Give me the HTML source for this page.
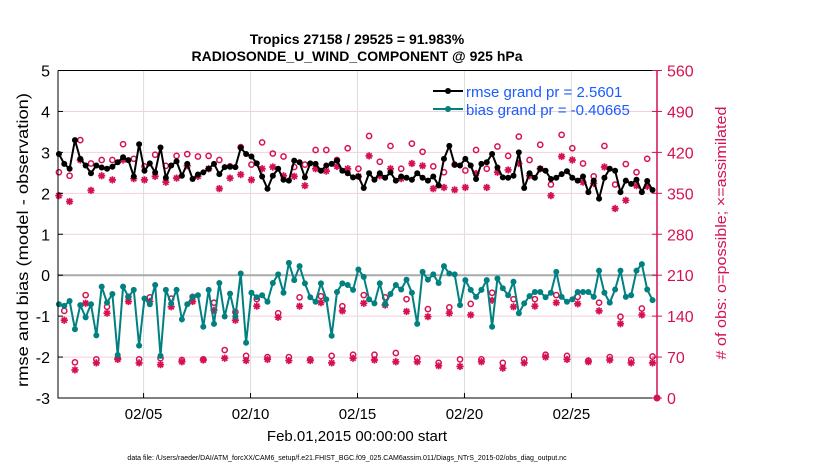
<!DOCTYPE html>
<html><head><meta charset="utf-8"><style>
body{margin:0;background:#fff;}
svg text{font-family:"Liberation Sans",sans-serif;}
</style></head><body>
<svg id="chart" width="830" height="470" viewBox="0 0 830 470" xmlns="http://www.w3.org/2000/svg">
<rect width="830" height="470" fill="#fff"/>
<text x="357" y="44" text-anchor="middle" font-size="14" font-weight="bold">Tropics 27158 / 29525 = 91.983%</text>
<text x="357" y="61" text-anchor="middle" font-size="14" font-weight="bold">RADIOSONDE_U_WIND_COMPONENT @ 925 hPa</text>
<g id="grid"></g>
<g id="marks"></g>
<g id="axes"></g>
<g>
<line x1="433" y1="91" x2="463" y2="91" stroke="#000" stroke-width="2"/><circle cx="448" cy="91" r="3" fill="#000"/>
<text x="466" y="97" font-size="15" fill="#1a5cff">rmse grand pr = 2.5601</text>
<line x1="433" y1="109" x2="463" y2="109" stroke="#008080" stroke-width="2"/><circle cx="448" cy="109" r="3" fill="#008080"/>
<text x="466" y="115" font-size="15" fill="#1a5cff">bias grand pr = -0.40665</text>
</g>
<text transform="translate(28,240) rotate(-90)" text-anchor="middle" font-size="16" textLength="294" lengthAdjust="spacingAndGlyphs">rmse and bias (model - observation)</text>
<text transform="translate(726,233) rotate(-90)" text-anchor="middle" font-size="15" fill="#d6114f" textLength="253" lengthAdjust="spacingAndGlyphs"># of obs: o=possible; ×=assimilated</text>
<text x="357" y="441" text-anchor="middle" font-size="15">Feb.01,2015 00:00:00 start</text>
<text x="347" y="460" text-anchor="middle" font-size="7">data file: /Users/raeder/DAI/ATM_forcXX/CAM6_setup/f.e21.FHIST_BGC.f09_025.CAM6assim.011/Diags_NTrS_2015-02/obs_diag_output.nc</text>
</svg>
<script>
const rmse=[2.96,2.72,2.60,3.30,2.84,2.68,2.49,2.68,2.63,2.60,2.65,2.76,2.88,2.81,2.41,3.20,2.55,2.73,2.51,3.12,2.38,2.68,2.78,2.43,2.72,2.35,2.46,2.51,
2.60,2.72,2.47,2.64,2.65,2.64,3.11,2.96,2.90,2.73,2.41,2.11,2.43,2.60,2.33,2.31,2.80,2.76,2.39,2.73,2.72,2.55,2.68,2.72,2.80,2.55,2.49,2.39,
2.41,2.13,2.49,2.33,2.49,2.38,2.51,2.31,2.41,2.38,2.33,2.49,2.38,2.31,2.41,2.19,2.84,3.16,2.70,2.68,2.84,2.68,2.35,2.72,2.76,2.96,2.63,2.39,
2.38,2.43,3.00,2.13,2.49,2.38,2.60,2.55,2.35,2.38,2.47,2.54,2.38,2.31,2.41,2.03,2.31,1.87,2.38,2.60,2.55,2.03,2.31,2.23,2.33,2.03,2.30,2.08];
const bias=[-0.71,-0.75,-0.63,-1.32,-0.73,-1.03,-0.71,-1.47,-0.28,-0.67,-0.46,-1.95,-0.28,-0.53,-0.36,-1.72,-0.57,-0.71,-0.24,-1.97,-0.36,-0.69,-0.36,-1.08,-0.71,-0.53,-0.49,-1.26,
-0.36,-1.19,-0.19,-1.01,-0.45,-1.01,0.04,-1.65,-0.43,-0.54,-0.49,-0.65,-0.19,0.02,-0.43,0.30,-0.12,0.22,-0.20,-0.54,-0.65,-0.20,-0.59,-1.48,-0.41,-0.20,-0.24,-0.36,
0.14,-0.04,-0.59,-0.69,-0.20,-0.71,-0.46,-0.24,-0.35,-0.11,-0.43,-1.19,0.08,-0.11,0.02,-0.19,0.22,0.04,0.02,-0.73,-0.12,-0.36,-0.53,-0.36,-0.12,-1.26,-0.08,-0.32,
-0.49,-0.16,-0.93,-0.69,-0.51,-0.41,-0.41,-0.54,-0.43,0.08,-0.53,-0.65,-0.59,-0.41,-0.41,-0.41,-0.53,0.11,-0.43,-0.67,-0.35,0.11,-0.53,-0.49,0.11,0.27,-0.35,-0.61];
const nPossible=[386,149,380,61,441,176,401,66,407,156,407,68,434,173,409,66,396,172,416,68,397,170,414,65,417,173,413,66,
414,163,407,82,396,147,429,72,399,169,437,70,418,145,413,70,395,172,399,66,424,174,424,72,407,157,427,74,
392,176,448,74,404,172,431,77,392,169,435,68,421,152,396,60,386,155,399,66,389,161,424,66,392,180,430,60,
414,169,447,66,407,169,433,74,365,176,450,72,427,173,401,64,379,163,431,70,365,139,400,65,386,153,409,71];
const nAssim=[346,133,336,48,407,162,355,60,380,145,373,66,407,165,375,60,373,165,379,57,369,156,376,62,397,165,379,65,
392,150,358,68,376,133,382,64,373,157,392,66,395,138,380,64,379,157,363,64,392,163,388,60,396,149,392,68,
379,162,414,65,380,159,392,62,375,148,401,62,397,139,358,55,360,145,356,54,360,142,384,62,360,167,386,51,
390,156,401,60,380,157,392,70,346,163,413,66,407,161,369,62,367,149,395,65,324,127,338,60,363,142,362,60];
const leftTicks=[-3,-2,-1,0,1,2,3,4,5];
const rightTicks=[0,70,140,210,280,350,420,490,560];
const xTickDays=[4,9,14,19,24];
const xTickLabels=["02/05","02/10","02/15","02/20","02/25"];
const firstTime=0.042, stepDays=0.25;

const L=58,R=657,T=70.5,B=398;
const X=d=>L+(d/28)*(R-L);
const Y=v=>B-(v+3)/8*(B-T);
const Yc=c=>B-c/560*(B-T);
const NS='http://www.w3.org/2000/svg';
function mk(tag,attrs,parent){const e=document.createElementNS(NS,tag);for(const k in attrs)e.setAttribute(k,attrs[k]);parent.appendChild(e);return e;}
const grid=document.getElementById('grid'),marks=document.getElementById('marks'),axes=document.getElementById('axes');
rightTicks.forEach(c=>{const l=mk('line',{x1:L,x2:R,y1:Yc(c),y2:Yc(c),stroke:'#f2d0dc','stroke-width':1},grid);

});
xTickDays.forEach(d=>{const l=mk('line',{x1:X(d),x2:X(d),y1:T,y2:B,stroke:'#dddddd','stroke-width':1},grid);

});
const z=mk('line',{x1:L,x2:R,y1:Y(0),y2:Y(0),stroke:'#aaaaaa','stroke-width':2},grid);


const tx=i=>X(firstTime+i*stepDays);
nPossible.forEach((c,i)=>{const e=mk('circle',{cx:tx(i),cy:Yc(c),r:2.6,fill:'none',stroke:'#d6114f','stroke-width':1.5},marks);

});
nAssim.forEach((c,i)=>{const x=tx(i),y=Yc(c),r=3.6,d=2.6;
 const e=mk('path',{d:`M${x-r},${y}H${x+r}M${x},${y-r}V${y+r}M${x-d},${y-d}L${x+d},${y+d}M${x-d},${y+d}L${x+d},${y-d}`,stroke:'#d6114f','stroke-width':1.7,fill:'none'},marks);
 
 });
function series(vals,color,name){
 const p=mk('polyline',{points:vals.map((v,i)=>tx(i)+','+Y(v)).join(' '),fill:'none',stroke:color,'stroke-width':2},marks);
 
 
 vals.forEach((v,i)=>{const c=mk('circle',{cx:tx(i),cy:Y(v),r:3,fill:color},marks);
 
 });
}
series(rmse,'#000','rmse');
series(bias,'#008080','bias');
const fr=mk('path',{d:`M${L},${T}H${R}M${L},${T}V${B}H${R}`,stroke:'#000',fill:'none','stroke-width':1},axes);


const ra=mk('line',{x1:R,x2:R,y1:T,y2:B,stroke:'#d6114f','stroke-width':1.5},axes);


leftTicks.forEach(v=>{mk('line',{x1:L,x2:L+5,y1:Y(v),y2:Y(v),stroke:'#000'},axes);
 const t=mk('text',{x:L-8,y:Y(v)+6,'text-anchor':'end','font-size':16},axes);t.textContent=v;
 
 });
rightTicks.forEach(c=>{mk('line',{x1:R-5,x2:R+5,y1:Yc(c),y2:Yc(c),stroke:'#d6114f'},axes);
 const t=mk('text',{x:R+10,y:Yc(c)+6,'font-size':16,fill:'#d6114f'},axes);t.textContent=c;
 
 });
xTickDays.forEach((d,i)=>{mk('line',{x1:X(d),x2:X(d),y1:B,y2:B-5,stroke:'#000'},axes);
 const t=mk('text',{x:X(d),y:B+21,'text-anchor':'middle','font-size':15},axes);t.textContent=xTickLabels[i];
 
 });
const zm=mk('circle',{cx:R,cy:B,r:3.5,fill:'#d6114f'},axes);


</script>
</body></html>
